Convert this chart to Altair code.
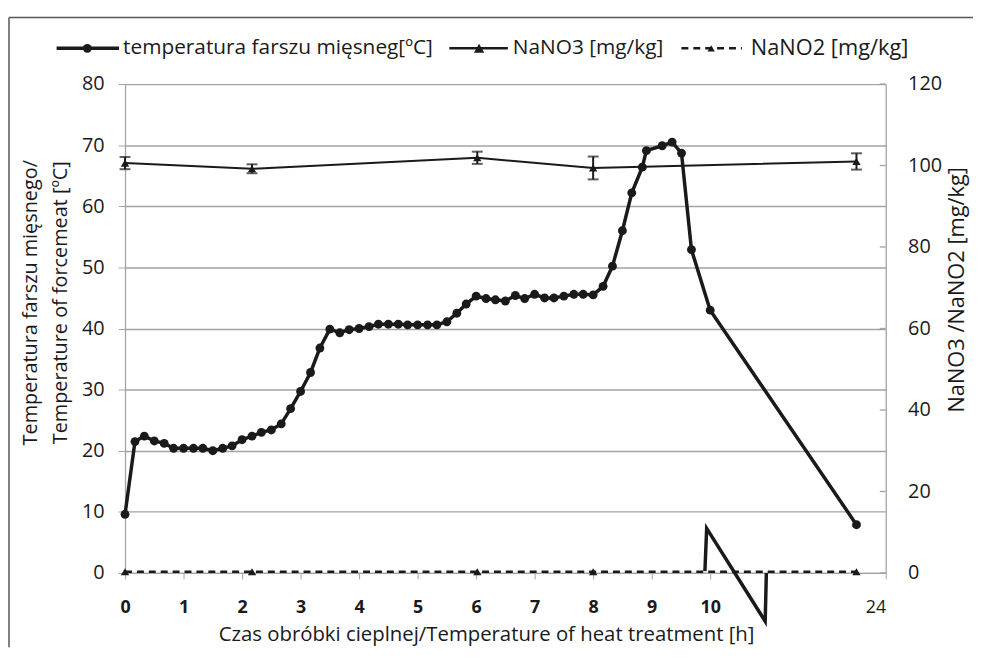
import altair as alt
import pandas as pd

# ---------------- data ----------------
# x positions in display hours (the last point, 24 h, sits after the axis break)
temp_time = [0.0, 0.17, 0.33, 0.5, 0.67, 0.83, 1.0, 1.17, 1.33, 1.5, 1.67, 1.83,
             2.0, 2.17, 2.33, 2.5, 2.67, 2.83, 3.0, 3.17, 3.33, 3.5, 3.67, 3.83,
             4.0, 4.17, 4.33, 4.5, 4.67, 4.83, 5.0, 5.17, 5.33, 5.5, 5.67, 5.83,
             6.0, 6.17, 6.33, 6.5, 6.67, 6.83, 7.0, 7.17, 7.33, 7.5, 7.67, 7.83,
             8.0, 8.17, 8.33, 8.5, 8.66, 8.84, 8.91, 9.18, 9.35, 9.51, 9.68, 10.0, 12.5]
temp_value = [9.6, 21.5, 22.4, 21.6, 21.2, 20.4, 20.4, 20.4, 20.4, 20.0, 20.4, 20.8,
              21.8, 22.4, 23.0, 23.4, 24.4, 26.9, 29.7, 32.8, 36.8, 39.9, 39.3, 39.8,
              40.0, 40.3, 40.7, 40.7, 40.7, 40.6, 40.6, 40.6, 40.6, 41.1, 42.5, 44.0,
              45.3, 44.9, 44.7, 44.5, 45.4, 44.9, 45.6, 45.0, 45.0, 45.3, 45.6, 45.6,
              45.5, 46.9, 50.2, 56.0, 62.2, 66.4, 69.1, 69.9, 70.5, 68.7, 52.9, 43.0, 7.9]

nitr_time = [0.0, 2.17, 6.02, 8.0, 12.5]
nano3 = [100.6, 99.2, 101.9, 99.4, 101.0]
nano3_err = [1.5, 1.1, 1.5, 2.8, 2.0]
nano2 = [0.3, 0.3, 0.3, 0.3, 0.3]

x_ticks = [0, 1, 2, 3, 4, 5, 6, 7, 8, 9, 10, 13]
left_ticks = [0, 10, 20, 30, 40, 50, 60, 70, 80]
right_ticks = [0, 20, 40, 60, 80, 100, 120]

# axis-break zigzag (x in display hours, y in °C units)
break_x = [9.91, 9.94, 10.94, 10.96]
break_y = [0.3, 7.3, -7.9, 0.0]

legend_labels = ["temperatura farszu mięsneg[ºC]", "NaNO3 [mg/kg]", "NaNO2 [mg/kg]"]

# ---------------- build ----------------
FONT = "Open Sans"
INK = "#1a1a1a"
GRID = "#a3a3a3"
W, H = 767, 493

temp_df = pd.DataFrame({"t": temp_time, "v": temp_value})
nit_df = pd.DataFrame({"t": nitr_time, "no3": nano3, "err": nano3_err, "no2": nano2})
nit_df["lo"] = nit_df["no3"] - nit_df["err"]
nit_df["hi"] = nit_df["no3"] + nit_df["err"]
brk_df = pd.DataFrame({"t": break_x, "v": break_y, "o": list(range(len(break_x)))})
rt_df = pd.DataFrame({"v": right_ticks})
one = pd.DataFrame({"a": [0]})

xscale = alt.Scale(domain=[0, 13], nice=False, zero=False)
lscale = alt.Scale(domain=[0, 80], nice=False)
rscale = alt.Scale(domain=[0, 120], nice=False)

x_axis = alt.Axis(
    values=x_ticks,
    labelExpr="datum.value == 13 ? '24' : datum.label",
    labelFontWeight=alt.ExprRef(expr="datum.value == 13 ? 'normal' : 'bold'"),
    labelAlign=alt.ExprRef(expr="datum.value == 13 ? 'right' : 'center'"),
    labelFlush=False,
    labelFontSize=18, labelFont=FONT, labelColor=INK, labelPadding=20,
    grid=False, domainColor=GRID, tickColor=GRID, tickSize=6, domainWidth=1.3,
    title="Czas obróbki cieplnej/Temperature of heat treatment  [h]",
    titleFont=FONT, titleFontSize=20.5, titleFontWeight="normal", titleColor=INK,
    titleX=364, titleY=62, titleBaseline="middle", titleAlign="center",
)
left_axis = alt.Axis(
    values=left_ticks, grid=True, gridColor=GRID, gridWidth=1.3,
    domainColor=GRID, domainWidth=1.3, tickColor=GRID, tickSize=7,
    labelFontSize=20, labelFont=FONT, labelColor=INK, labelPadding=14,
    title=["Temperatura farszu mięsnego/", "Temperature of forcemeat [ºC]"],
    titleFont=FONT, titleFontSize=20, titleFontWeight="normal", titleColor=INK,
    titleAngle=270, titleX=-95, titleY=220, titleAlign="center",
    titleBaseline="middle", titleLineHeight=30,
)
right_axis = alt.Axis(
    values=right_ticks, grid=False, orient="right",
    domainColor=GRID, domainWidth=1.3, tickSize=0,
    labelFontSize=20, labelFont=FONT, labelColor=INK, labelPadding=22,
    title="NaNO3 /NaNO2 [mg/kg]",
    titleFont=FONT, titleFontSize=22, titleFontWeight="normal", titleColor=INK,
    titleAngle=270, titleX=71, titleY=207, titleAlign="center", titleBaseline="middle",
)

X = alt.X("t:Q", scale=xscale, axis=x_axis)
YL = alt.Y("v:Q", scale=lscale, axis=left_axis)


def YR(field):
    return alt.Y(field, scale=rscale, axis=right_axis)


temp_line = alt.Chart(temp_df).mark_line(color=INK, strokeWidth=3.5).encode(x=X, y=YL)
temp_pts = alt.Chart(temp_df).mark_circle(color=INK, size=80, opacity=1).encode(x=X, y=YL)
brk = alt.Chart(brk_df).mark_line(color=INK, strokeWidth=3.5, clip=False,
                                  strokeJoin="miter").encode(x=X, y=YL, order="o:Q")

left_group = alt.layer(temp_line, temp_pts, brk)

no3_line = alt.Chart(nit_df).mark_line(color=INK, strokeWidth=2).encode(x=X, y=YR("no3:Q"))
no3_pts = alt.Chart(nit_df).mark_point(shape="triangle-up", filled=True, color=INK,
                                       size=70, opacity=1).encode(x=X, y=YR("no3:Q"))
no3_bar = alt.Chart(nit_df).mark_rule(color=INK, strokeWidth=2).encode(
    x=X, y=YR("lo:Q"), y2="hi:Q")
no3_cap_lo = alt.Chart(nit_df).mark_tick(color=INK, orient="horizontal", size=11,
                                         thickness=2).encode(x=X, y=YR("lo:Q"))
no3_cap_hi = alt.Chart(nit_df).mark_tick(color=INK, orient="horizontal", size=11,
                                         thickness=2).encode(x=X, y=YR("hi:Q"))
no2_line = alt.Chart(nit_df).mark_line(color=INK, strokeWidth=2.5,
                                       strokeDash=[7, 5]).encode(x=X, y=YR("no2:Q"))
no2_pts = alt.Chart(nit_df).mark_point(shape="triangle-up", filled=True, color=INK,
                                       size=70, opacity=1).encode(x=X, y=YR("no2:Q"))
r_ticks = alt.Chart(rt_df).mark_rule(color=GRID, strokeWidth=1.3).encode(
    y=YR("v:Q"), x=alt.value(W - 6), x2=alt.value(W))

right_group = alt.layer(no3_line, no3_bar, no3_cap_lo, no3_cap_hi, no3_pts,
                        no2_line, no2_pts, r_ticks)

# ---------------- legend (drawn above the plot) ----------------
LY = -36


def txt(label, xpos, size=21):
    return alt.Chart(one).mark_text(align="left", baseline="middle", font=FONT,
                                    fontSize=size, color=INK).encode(
        x=alt.value(xpos), y=alt.value(LY), text=alt.value(label))


leg1 = alt.Chart(one).mark_rule(color=INK, strokeWidth=3.5).encode(
    x=alt.value(-69), x2=alt.value(-6), y=alt.value(LY))
leg1p = alt.Chart(one).mark_circle(color=INK, size=80, opacity=1).encode(
    x=alt.value(-38), y=alt.value(LY))
leg2 = alt.Chart(one).mark_rule(color=INK, strokeWidth=2.5).encode(
    x=alt.value(327), x2=alt.value(386), y=alt.value(LY))
leg2p = alt.Chart(one).mark_point(shape="triangle-up", filled=True, color=INK,
                                  size=110, opacity=1).encode(
    x=alt.value(357), y=alt.value(LY))
leg3 = alt.Chart(one).mark_rule(color=INK, strokeWidth=2.5, strokeDash=[7, 5]).encode(
    x=alt.value(561), x2=alt.value(622), y=alt.value(LY))
leg3p = alt.Chart(one).mark_point(shape="triangle-up", filled=True, color=INK,
                                  size=55, opacity=1).encode(
    x=alt.value(591), y=alt.value(LY))
# outer frame (left and top edges)
fr_left = alt.Chart(one).mark_rule(color="#555555", strokeWidth=1.5).encode(
    x=alt.value(-117), y=alt.value(-67), y2=alt.value(568))
fr_top = alt.Chart(one).mark_rule(color="#555555", strokeWidth=1.5).encode(
    x=alt.value(-117), x2=alt.value(855), y=alt.value(-67))

legend_group = alt.layer(fr_left, fr_top, leg1, leg1p, leg2, leg2p, leg3, leg3p,
                         txt(legend_labels[0], -2), txt(legend_labels[1], 391),
                         txt(legend_labels[2], 631, 22))

chart = alt.layer(left_group, right_group, legend_group).resolve_scale(
    y="independent"
).properties(
    width=W, height=H,
    autosize=alt.AutoSizeParams(type="none"),
    padding={"left": 118, "top": 74, "right": 88, "bottom": 74},
    background="white",
).configure_view(stroke=None)

chart.save("out.html", embed_options={"renderer": "svg", "actions": False})
